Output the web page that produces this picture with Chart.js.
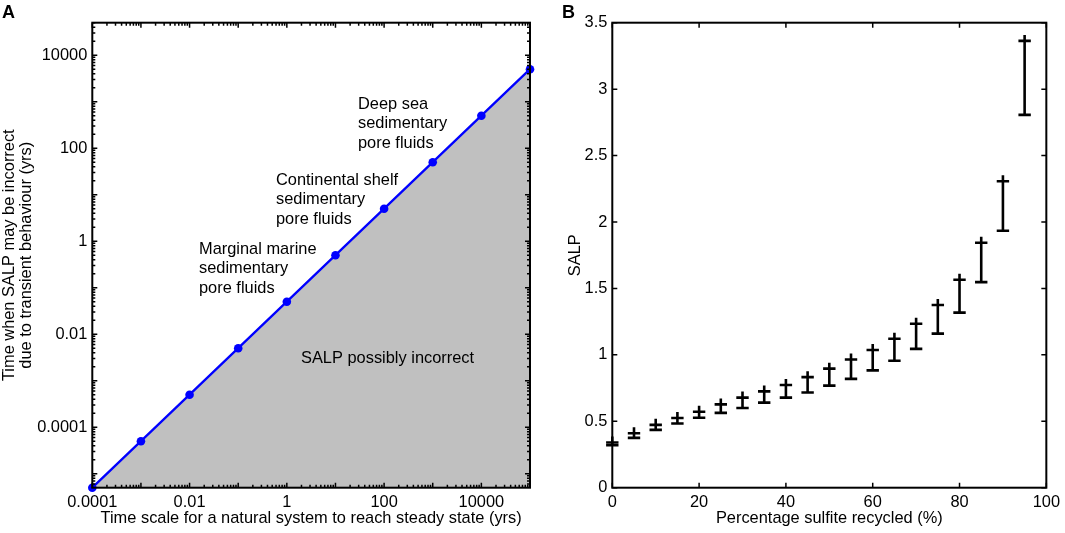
<!DOCTYPE html>
<html>
<head>
<meta charset="utf-8">
<script src="https://cdn.jsdelivr.net/npm/chart.js@4.4.1/dist/chart.umd.min.js"></script>
<style>
  html, body { margin: 0; padding: 0; background: #fff; }
  #wrap { position: relative; width: 1065px; height: 533px; overflow: hidden;
          font-family: "Liberation Sans", Arial, Helvetica, sans-serif; }
  canvas { position: absolute; top: 0; }
  #chartA { left: 0; }
  #chartB { left: 540px; }
  .panel { position: absolute; font-weight: bold; font-size: 18px; line-height: 18px; color: #000; }
</style>
</head>
<body>
<div id="wrap">
  <canvas id="chartA" width="540" height="533"></canvas>
  <canvas id="chartB" width="525" height="533"></canvas>
  <div class="panel" style="left:2px; top:3px;">A</div>
  <div class="panel" style="left:562px; top:3px;">B</div>
</div>
<script>
// ---- panel A: time scales (log-log) ----
const steadyStateTime = [1e-4, 1e-3, 1e-2, 1e-1, 1, 10, 100, 1000, 1e4, 1e5];
const transientTime = [5e-6, 5e-5, 5e-4, 5e-3, 0.05, 0.5, 5, 50, 500, 5000];
const aXTicks = [1e-4, 1e-2, 1, 100, 1e4];
const aXTickLabels = ['0.0001', '0.01', '1', '100', '10000'];
const aYTicks = [1e-4, 1e-2, 1, 100, 1e4];
const aYTickLabels = ['0.0001', '0.01', '1', '100', '10000'];

// ---- panel B: SALP ranges ----
const sulfiteRecycled = [0, 5, 10, 15, 20, 25, 30, 35, 40, 45, 50, 55, 60, 65, 70, 75, 80, 85, 90, 95];
const salpLow  = [0.320, 0.375, 0.435, 0.483, 0.526, 0.563, 0.600, 0.640, 0.678, 0.717,
                  0.768, 0.819, 0.883, 0.955, 1.045, 1.160, 1.318, 1.547, 1.934, 2.806];
const salpHigh = [0.340, 0.410, 0.473, 0.525, 0.572, 0.627, 0.678, 0.725, 0.773, 0.832,
                  0.896, 0.965, 1.037, 1.121, 1.234, 1.375, 1.565, 1.844, 2.307, 3.363];
const bXTicks = [0, 20, 40, 60, 80, 100];
const bYTicks = [0, 0.5, 1, 1.5, 2, 2.5, 3, 3.5];
const bYTickLabels = ['0', '0.5', '1', '1.5', '2', '2.5', '3', '3.5'];

const FONT = '"Liberation Sans", Arial, Helvetica, sans-serif';
const FS = 16.4;
Chart.defaults.font.family = FONT;
Chart.defaults.color = '#000';

function logTicks(min, max) {
  const major = [], minor = [];
  for (let e = Math.floor(Math.log10(min)); e <= Math.ceil(Math.log10(max)); e++) {
    const d = Math.pow(10, e);
    if (d >= min && d <= max) major.push(d);
    for (let m = 2; m <= 9; m++) {
      if (m * d >= min && m * d <= max) minor.push(m * d);
    }
  }
  return { major, minor };
}

// box with inward ticks on all four sides, like the original figure
function framePlugin(getTicks) {
  return {
    id: 'frame',
    afterDatasetsDraw(chart) {
      const { ctx, chartArea: a, scales: { x, y } } = chart;
      const t = getTicks(x, y);
      ctx.save();
      ctx.strokeStyle = '#000';
      ctx.lineWidth = 1.5;
      const tick = (vals, len, horiz) => {
        vals.forEach(v => {
          ctx.beginPath();
          if (horiz) {
            const px = x.getPixelForValue(v);
            ctx.moveTo(px, a.bottom); ctx.lineTo(px, a.bottom - len);
            ctx.moveTo(px, a.top); ctx.lineTo(px, a.top + len);
          } else {
            const py = y.getPixelForValue(v);
            ctx.moveTo(a.left, py); ctx.lineTo(a.left + len, py);
            ctx.moveTo(a.right, py); ctx.lineTo(a.right - len, py);
          }
          ctx.stroke();
        });
      };
      tick(t.xMajor, 5, true);
      tick(t.xMinor, 3, true);
      tick(t.yMajor, 5, false);
      tick(t.yMinor, 3, false);
      ctx.lineWidth = 2;
      ctx.strokeRect(a.left, a.top, a.right - a.left, a.bottom - a.top);
      ctx.restore();
    }
  };
}

const notesA = [
  { lines: ['Deep sea', 'sedimentary', 'pore fluids'], left: 358, top: 104 },
  { lines: ['Continental shelf', 'sedimentary', 'pore fluids'], left: 276, top: 180 },
  { lines: ['Marginal marine', 'sedimentary', 'pore fluids'], left: 199, top: 249 },
  { lines: ['SALP possibly incorrect'], left: 301, top: 358 }
];

const notesPlugin = {
  id: 'notes',
  afterDatasetsDraw(chart) {
    const ctx = chart.ctx;
    ctx.save();
    ctx.font = FS + 'px ' + FONT;
    ctx.fillStyle = '#000';
    ctx.textBaseline = 'middle';
    ctx.textAlign = 'left';
    notesA.forEach(n => n.lines.forEach((l, i) => ctx.fillText(l, n.left, n.top + i * 19.6)));
    ctx.restore();
  }
};

const aX = logTicks(1e-4, 1e5), aY = logTicks(5e-6, 5e4);

new Chart(document.getElementById('chartA'), {
  type: 'line',
  data: {
    datasets: [{
      data: steadyStateTime.map((v, i) => ({ x: v, y: transientTime[i] })),
      borderColor: '#0000ff',
      borderWidth: 2.3,
      pointRadius: 4.3,
      pointBackgroundColor: '#0000ff',
      pointBorderWidth: 0,
      fill: 'start',
      backgroundColor: '#c0c0c0',
      tension: 0,
      clip: false
    }]
  },
  options: {
    responsive: false,
    animation: false,
    layout: { padding: { left: 0, top: 22.7, right: 10, bottom: 0 } },
    plugins: { legend: { display: false }, tooltip: { enabled: false } },
    scales: {
      x: {
        type: 'logarithmic', min: 1e-4, max: 1e5,
        grid: { display: false, drawTicks: false }, border: { display: false },
        afterBuildTicks: s => { s.ticks = aXTicks.map(v => ({ value: v })); },
        afterFit: s => { s.height = 45.3; },
        ticks: { autoSkip: false, maxRotation: 0, padding: 5, font: { size: FS },
                 callback: (v, i) => aXTickLabels[i] },
        title: { display: true, text: 'Time scale for a natural system to reach steady state (yrs)',
                 font: { size: FS }, padding: { top: 0, bottom: 4.5 } }
      },
      y: {
        type: 'logarithmic', min: 5e-6, max: 5e4,
        grid: { display: false, drawTicks: false }, border: { display: false },
        afterBuildTicks: s => { s.ticks = aYTicks.map(v => ({ value: v })); },
        afterFit: s => { s.width = 92.3; },
        ticks: { autoSkip: false, padding: 5, font: { size: FS },
                 callback: (v, i) => aYTickLabels[i] },
        title: { display: true, text: ['Time when SALP may be incorrect', 'due to transient behaviour (yrs)'],
                 font: { size: FS, lineHeight: 1.08 }, padding: { top: 0.3, bottom: 0 } }
      }
    }
  },
  plugins: [
    framePlugin(() => ({ xMajor: aX.major, xMinor: aX.minor, yMajor: aY.major, yMinor: aY.minor })),
    notesPlugin
  ]
});

// error bars: vertical stem, cap at each end; stem pokes slightly past the upper cap
const errorBarPlugin = {
  id: 'errorBars',
  afterDatasetsDraw(chart) {
    const { ctx, scales: { x, y } } = chart;
    ctx.save();
    ctx.strokeStyle = '#000';
    ctx.lineWidth = 2.6;
    ctx.lineCap = 'butt';
    sulfiteRecycled.forEach((p, i) => {
      const px = x.getPixelForValue(p);
      const lo = y.getPixelForValue(salpLow[i]);
      const hi = y.getPixelForValue(salpHigh[i]);
      ctx.beginPath();
      ctx.moveTo(px, lo); ctx.lineTo(px, hi - 6);
      ctx.moveTo(px - 6.2, lo); ctx.lineTo(px + 6.2, lo);
      ctx.moveTo(px - 6.2, hi); ctx.lineTo(px + 6.2, hi);
      ctx.stroke();
    });
    ctx.restore();
  }
};

new Chart(document.getElementById('chartB'), {
  type: 'scatter',
  data: {
    datasets: [{
      data: sulfiteRecycled.map((v, i) => ({ x: v, y: salpHigh[i] })),
      pointRadius: 0
    }]
  },
  options: {
    responsive: false,
    animation: false,
    layout: { padding: { left: 0, top: 22.7, right: 14.3, bottom: 0 } },
    plugins: { legend: { display: false }, tooltip: { enabled: false } },
    scales: {
      x: {
        type: 'linear', min: 0, max: 100,
        grid: { display: false, drawTicks: false }, border: { display: false },
        afterBuildTicks: s => { s.ticks = bXTicks.map(v => ({ value: v })); },
        afterFit: s => { s.height = 45.3; },
        ticks: { autoSkip: false, maxRotation: 0, padding: 5, font: { size: FS } },
        title: { display: true, text: 'Percentage sulfite recycled (%)',
                 font: { size: FS }, padding: { top: 0, bottom: 4.5 } }
      },
      y: {
        type: 'linear', min: 0, max: 3.5,
        grid: { display: false, drawTicks: false }, border: { display: false },
        afterBuildTicks: s => { s.ticks = bYTicks.map(v => ({ value: v })); },
        afterFit: s => { s.width = 72.3; },
        ticks: { autoSkip: false, padding: 5, font: { size: FS },
                 callback: (v, i) => bYTickLabels[i] },
        title: { display: true, text: 'SALP', font: { size: FS }, padding: { top: 25.5, bottom: 0 } }
      }
    }
  },
  plugins: [
    framePlugin(() => ({ xMajor: bXTicks, xMinor: [], yMajor: bYTicks, yMinor: [] })),
    errorBarPlugin
  ]
});
</script>
</body>
</html>
